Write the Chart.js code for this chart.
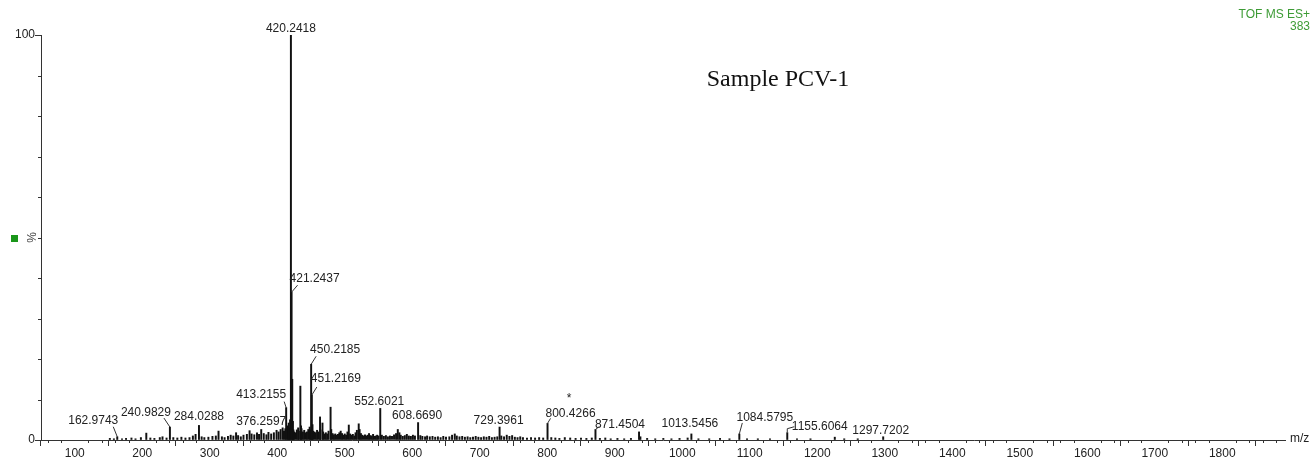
<!DOCTYPE html>
<html>
<head>
<meta charset="utf-8">
<script src="https://cdn.jsdelivr.net/npm/chart.js@4/dist/chart.umd.min.js"></script>
<style>
  html, body { margin: 0; padding: 0; background: #fff; }
  #wrap { width: 1313px; height: 461px; position: relative; }
</style>
</head>
<body>
<div id="wrap"><canvas id="c" width="1313" height="461"></canvas></div>
<script>
// Annotated peaks: m/z and relative intensity (%)
const labelMz  = [162.9743, 240.9829, 284.0288, 376.2597, 413.2155, 420.2418, 421.2437, 450.2185, 451.2169,
                  552.6021, 608.6690, 729.3961, 800.4266, 871.4504, 1013.5456, 1084.5795, 1155.6064, 1297.7202];
const labelInt = [0.8, 3.2, 3.6, 2.6, 8.0, 100, 36.5, 18.7, 11.1,
                  7.8, 4.3, 3.2, 4.1, 2.6, 1.5, 1.5, 1.8, 0.8];

// Remaining centroid peaks: m/z and relative intensity (%)
const peakMz = [
  152, 158, 170, 176, 184, 190, 198, 206, 212, 218, 226, 230, 236, 246, 252, 258, 264, 270, 275, 279,
  288, 292, 298, 304, 309, 313, 318, 322, 327, 331, 335, 339, 342, 346, 350, 355, 359, 362, 366, 370,
  373, 380, 384, 387, 391, 395, 399, 402, 405, 408, 410, 412, 415, 416, 417, 418, 419, 422.24, 423.2, 424,
  425, 427, 429, 431, 432, 434.23, 435.2, 436, 438, 440, 442, 444, 446, 448, 449, 452.2, 453, 455, 457, 459,
  461, 463.4, 464, 467, 468, 470, 472, 474, 476, 479, 480, 482, 484, 486, 488, 490, 492, 494, 496, 498,
  500, 502, 504, 506, 508, 510, 512, 514, 516, 518, 520.7, 522, 524, 526, 528, 530, 532, 534, 536, 538,
  540, 542, 544, 546, 548, 550, 555, 558, 561, 564, 567, 570, 573, 576, 578.6, 581, 583, 586, 589, 592,
  595, 598, 601, 604, 612, 615, 619, 622, 626, 630, 634, 638, 642, 646, 650, 655, 659, 663, 666, 670,
  674, 678, 682, 686, 690, 694, 698, 702, 706, 710, 714, 718, 722, 726, 732, 736, 740, 744, 748, 752,
  756, 760, 764, 770, 776, 782, 788, 794, 806, 812, 818, 826, 834, 842, 850, 858, 866, 878, 886, 894,
  904, 914, 924, 936, 938, 948, 960, 972, 984, 996, 1008, 1024, 1040, 1056, 1070, 1096, 1112, 1130, 1170, 1190,
  1226, 1240, 1260
];
const peakInt = [
  0.4, 0.3, 0.3, 0.4, 0.5, 0.3, 0.6, 1.7, 0.5, 0.4, 0.6, 0.8, 0.5, 0.6, 0.5, 0.7, 0.5, 0.6, 1.0, 1.4,
  0.8, 0.6, 0.7, 0.9, 1.0, 2.2, 0.8, 0.6, 0.9, 1.2, 1.0, 1.8, 1.1, 0.8, 1.2, 1.4, 2.3, 1.5, 1.3, 1.8,
  1.4, 1.6, 1.3, 1.9, 1.5, 1.8, 2.4, 2.0, 2.6, 3.0, 2.2, 2.8, 3.5, 2.5, 4.2, 3.0, 5.0, 15.0, 4.6, 2.5,
  2.0, 1.8, 2.5, 3.0, 2.2, 13.3, 3.5, 2.8, 2.0, 2.4, 1.8, 2.0, 2.6, 3.2, 2.5, 3.8, 2.2, 2.0, 1.8, 2.4,
  2.0, 5.7, 2.5, 4.2, 2.0, 1.5, 1.8, 1.5, 2.2, 8.1, 2.6, 1.6, 1.3, 1.5, 1.2, 1.4, 1.8, 2.2, 1.6, 1.2,
  1.5, 1.2, 2.0, 3.7, 1.5, 1.2, 1.4, 1.0, 1.8, 2.4, 4.0, 2.6, 1.6, 1.2, 1.0, 1.3, 1.0, 1.2, 1.6, 1.1,
  1.0, 1.4, 0.9, 1.0, 1.2, 1.0, 1.2, 0.9, 1.1, 0.8, 1.0, 0.9, 1.3, 1.6, 2.6, 1.8, 1.2, 0.9, 1.1, 1.4,
  1.0, 0.9, 1.2, 1.0, 1.1, 0.9, 0.8, 1.0, 0.8, 0.9, 0.7, 0.8, 0.6, 0.9, 0.7, 0.8, 1.2, 1.5, 1.0, 0.8,
  0.9, 0.7, 0.8, 0.6, 0.7, 0.9, 0.7, 0.6, 0.8, 0.7, 0.9, 0.6, 0.7, 0.8, 1.0, 0.8, 1.2, 0.9, 1.1, 0.7,
  0.6, 0.8, 0.6, 0.5, 0.6, 0.5, 0.6, 0.5, 0.6, 0.5, 0.4, 0.6, 0.5, 0.4, 0.5, 0.4, 0.5, 0.4, 0.5, 0.3,
  0.4, 0.3, 0.4, 2.0, 0.8, 0.4, 0.3, 0.4, 0.3, 0.4, 0.5, 0.3, 0.3, 0.4, 0.3, 0.3, 0.3, 0.3, 0.3, 0.3,
  0.7, 0.3, 0.3
];

// Axis tick values
const xTickValues = [100, 200, 300, 400, 500, 600, 700, 800, 900, 1000, 1100, 1200, 1300, 1400, 1500, 1600, 1700, 1800];
const yTickValues = [0, 100];
const xMinorStep = 20;
const yMinorStep = 10;

// Placement of each peak annotation relative to the peak apex (px):
// text centre offset and an optional leader line.
const labelLayout = [
  { dx: -24, dy: -16, lead: [[0, 0], [-4, -10]] },
  { dx: -24, dy: -14, lead: [[0, 0], [-6, -9]] },
  { dx: 0,   dy: -8.5 },
  { dx: 0,   dy: -8 },
  { dx: -25, dy: -12.5, lead: [[0, 0], [-2, -6]] },
  { dx: 0,   dy: -6.5 },
  { dx: 23,  dy: -13, lead: [[0, 0], [6, -7]] },
  { dx: 24,  dy: -15, lead: [[0, 0], [5, -8]] },
  { dx: 24,  dy: -16, lead: [[0, 0], [5, -8]] },
  { dx: -1,  dy: -7 },
  { dx: -1,  dy: -6.5 },
  { dx: -1,  dy: -6 },
  { dx: 23,  dy: -10, lead: [[0, 0], [3, -5]], mark: { text: '*', dx: 21.5, dy: -25 } },
  { dx: 24.5, dy: -4.5, lead: [[0, 0], [4, -3]] },
  { dx: -1.5, dy: -10 },
  { dx: 25.5, dy: -16.5, lead: [[0, 0], [3, -11]] },
  { dx: 32.5, dy: -6.5, lead: [[0, 0], [0, -4], [7, -6]] },
  { dx: -2.5, dy: -6 }
];

const spectrum = [];
peakMz.forEach((m, i) => spectrum.push({ x: m, y: peakInt[i] }));
labelMz.forEach((m, i) => spectrum.push({ x: m, y: labelInt[i] }));

const FONT = '"Liberation Sans", Arial, sans-serif';
const INK = '#222';
const GREEN = '#3d9b35';

const spectrumDecor = {
  id: 'spectrumDecor',
  afterDraw(chart) {
    const { ctx, scales: { x, y }, chartArea } = chart;
    ctx.save();

    // minor ticks on both axes
    ctx.strokeStyle = '#333';
    ctx.lineWidth = 1;
    ctx.beginPath();
    for (let v = x.min + (xMinorStep - x.min % xMinorStep) % xMinorStep; v <= x.max; v += xMinorStep) {
      if (v % 100 === 0) continue;
      const px = Math.round(x.getPixelForValue(v)) + 0.5;
      ctx.moveTo(px, chartArea.bottom);
      ctx.lineTo(px, chartArea.bottom + 3);
    }
    for (let v = yMinorStep; v < 100; v += yMinorStep) {
      const py = Math.round(y.getPixelForValue(v)) + 0.5;
      ctx.moveTo(chartArea.left - 3, py);
      ctx.lineTo(chartArea.left, py);
    }
    ctx.stroke();

    // peak annotations
    ctx.font = '12px ' + FONT;
    ctx.fillStyle = INK;
    ctx.strokeStyle = '#333';
    ctx.textAlign = 'center';
    ctx.textBaseline = 'middle';
    labelMz.forEach((m, i) => {
      const px = x.getPixelForValue(m);
      const py = y.getPixelForValue(labelInt[i]);
      const L = labelLayout[i];
      ctx.fillText(m.toFixed(4), px + L.dx, py + L.dy);
      if (L.lead) {
        ctx.beginPath();
        L.lead.forEach(([lx, ly], k) => {
          if (k === 0) ctx.moveTo(px + lx, py + ly); else ctx.lineTo(px + lx, py + ly);
        });
        ctx.stroke();
      }
      if (L.mark) ctx.fillText(L.mark.text, px + L.mark.dx, py + L.mark.dy);
    });

    // axis unit labels
    ctx.textAlign = 'left';
    ctx.fillText('m/z', chartArea.right + 5, chartArea.bottom - 1);

    const midY = y.getPixelForValue(50);
    ctx.save();
    ctx.translate(chartArea.left - 8, midY);
    ctx.rotate(-Math.PI / 2);
    ctx.textAlign = 'center';
    ctx.fillStyle = '#444';
    ctx.fillText('%', 0, 0);
    ctx.restore();
    ctx.fillStyle = '#1a961a';
    ctx.fillRect(11, Math.round(midY) - 3, 7, 7);

    // instrument header
    ctx.fillStyle = GREEN;
    ctx.textAlign = 'right';
    ctx.fillText('TOF MS ES+', 1310, 15);
    ctx.fillText('383', 1310, 27);

    // sample title
    ctx.fillStyle = '#111';
    ctx.textAlign = 'center';
    ctx.font = '24px "Liberation Serif", "Times New Roman", serif';
    ctx.fillText('Sample PCV-1', 778, 80);

    ctx.restore();
  }
};

new Chart(document.getElementById('c'), {
  type: 'bar',
  data: {
    datasets: [{
      data: spectrum,
      backgroundColor: '#111',
      borderWidth: 0,
      barThickness: 1.3
    }]
  },
  options: {
    responsive: false,
    animation: false,
    devicePixelRatio: 1,
    layout: { padding: { top: 35, right: 28, left: 0, bottom: 0 } },
    plugins: { legend: { display: false }, tooltip: { enabled: false } },
    scales: {
      x: {
        type: 'linear',
        min: 50,
        max: 1893,
        offset: false,
        afterBuildTicks: s => { s.ticks = xTickValues.map(v => ({ value: v })); },
        afterFit: s => { s.height = 21; },
        grid: { drawOnChartArea: false, drawTicks: true, tickLength: 6, tickColor: '#333', tickWidth: 1 },
        border: { display: true, color: '#333', width: 1 },
        ticks: { color: INK, font: { family: FONT, size: 12 }, padding: 0, maxRotation: 0, autoSkip: false,
                 callback: v => String(v) }
      },
      y: {
        min: 0,
        max: 100,
        afterBuildTicks: s => { s.ticks = yTickValues.map(v => ({ value: v })); },
        afterFit: s => { s.width = 41; },
        grid: { drawOnChartArea: false, drawTicks: true, tickLength: 6, tickColor: '#333', tickWidth: 1 },
        border: { display: true, color: '#333', width: 1 },
        ticks: { color: INK, font: { family: FONT, size: 12 }, padding: 0, callback: v => String(v) }
      }
    }
  },
  plugins: [spectrumDecor]
});
</script>
</body>
</html>
